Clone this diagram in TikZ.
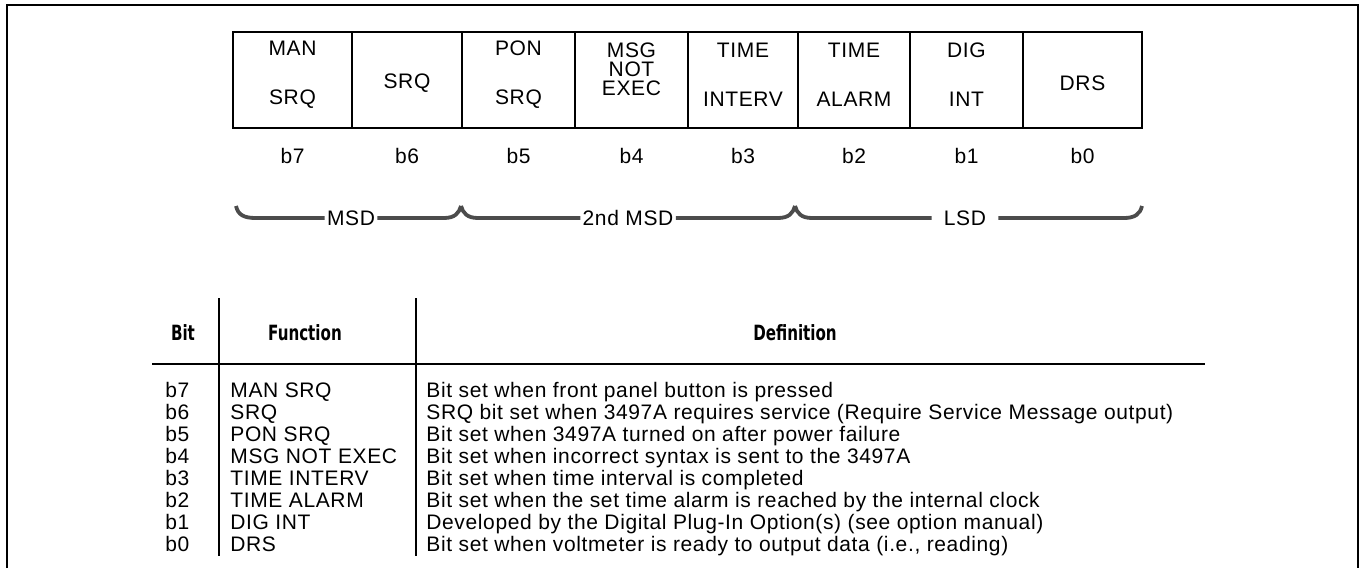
\documentclass[tikz,border=0pt]{standalone}
\usepackage{fontspec}
\setmainfont{Liberation Sans}[LetterSpace=3]
\newfontfamily\condfont[FakeStretch=0.8]{DejaVu Sans Condensed}
\usetikzlibrary{positioning}

\begin{document}
\begin{tikzpicture}[
    x=0.5pt, y=-0.5pt,
    field/.style={draw, line width=1pt, minimum height=48pt, inner sep=0pt},
    ftext/.style={align=center, inner sep=0pt, font=\fontsize{10.5}{12.6}\selectfont},
    bitlbl/.style={inner sep=0pt, font=\fontsize{10.5}{12.6}\selectfont},
    blabel/.style={inner xsep=1pt, inner ysep=0pt, font=\fontsize{10.5}{12.6}\selectfont},
    brace/.style={line width=1.9pt, black!70},
    head/.style={inner sep=0pt, font=\condfont\bfseries\fontsize{10.5}{12}\selectfont},
    cell/.style={anchor=base west, inner sep=0pt, font=\fontsize{10.5}{12.6}\selectfont},
    frame/.style={line width=1pt}
]
\useasboundingbox (0,0) rectangle (1363,568);
\draw[frame] (7,568) -- (7,5) -- (1358,5) -- (1358,568);

\foreach \n/\xa/\xb/\yc/\txt in {7/233/352/74.5/{MAN\\[11.9pt]SRQ}, 6/352/462/83/SRQ,
    5/462/575/74.5/{PON\\[11.9pt]SRQ}, 4/575/688/69/{MSG\\[-3.1pt]NOT\\[-3.1pt]EXEC},
    3/688/798/74.5/{TIME\\[11.9pt]INTERV}, 2/798/910/74.5/{TIME\\[11.9pt]ALARM},
    1/910/1023/74.5/{DIG\\[11.9pt]INT}, 0/1023/1142/83/DRS} {
  \pgfmathsetmacro\w{(\xb-\xa)/2}
  \pgfmathsetmacro\xc{(\xa+\xb)/2}
  \node[field, minimum width=\w pt] (f\n) at (\xc,80) {};
  \node[ftext] (t\n) at (\xc,\yc) {\txt};
  \node[bitlbl, below=9.5pt of f\n] (b\n) {b\n};
}

\coordinate (k0) at (236,206);
\coordinate (k1) at (461,206);
\coordinate (k2) at (795,206);
\coordinate (k3) at (1142,206);
\node[blabel] (msd) at (351,218) {MSD};
\node[blabel] (smsd) at (628,218) {2nd MSD};
\node[blabel, inner xsep=6pt] (lsd) at (965,218) {LSD};
\draw[brace] (k0) .. controls (238,215) and (244,218) .. (256,218) -- (msd.west);
\draw[brace] (msd.east) -- (444,218) .. controls (455,218) and (459,213) .. (k1);
\draw[brace] (k1) .. controls (463,213) and (467,218) .. (478,218) -- (smsd.west);
\draw[brace] (smsd.east) -- (778,218) .. controls (789,218) and (793,213) .. (k2);
\draw[brace] (k2) .. controls (797,213) and (801,218) .. (812,218) -- (lsd.west);
\draw[brace] (lsd.east) -- (1124,218) .. controls (1135,218) and (1140,214) .. (k3);

\node[head] (hbit) at (183,333) {Bit};
\node[head] (hfn) at (305,333) {Function};
\node[head] (hdef) at (795,333) {Definition};
\draw[line width=0.8pt] (219,298) -- (219,556);
\draw[line width=0.8pt] (416,298) -- (416,556);
\draw[line width=1pt] (152,364) -- (1205,364);

\foreach \i/\fn/\df in {7/MAN SRQ/{Bit set when front panel button is pressed},
    6/SRQ/{SRQ bit set when 3497A requires service (Require Service Message output)},
    5/PON SRQ/{Bit set when 3497A turned on after power failure},
    4/MSG NOT EXEC/{Bit set when incorrect syntax is sent to the 3497A},
    3/TIME INTERV/{Bit set when time interval is completed},
    2/TIME ALARM/{Bit set when the set time alarm is reached by the internal clock},
    1/DIG INT/{Developed by the Digital Plug-In Option(s) (see option manual)},
    0/DRS/{Bit set when voltmeter is ready to output data (i.e., reading)}} {
  \pgfmathsetmacro\yb{397+(7-\i)*22}
  \node[cell] (bit\i) at (165,\yb) {b\i};
  \node[cell] (fn\i) at (230,\yb) {\fn};
  \node[cell] (def\i) at (426,\yb) {\df};
}
\end{tikzpicture}
\end{document}
